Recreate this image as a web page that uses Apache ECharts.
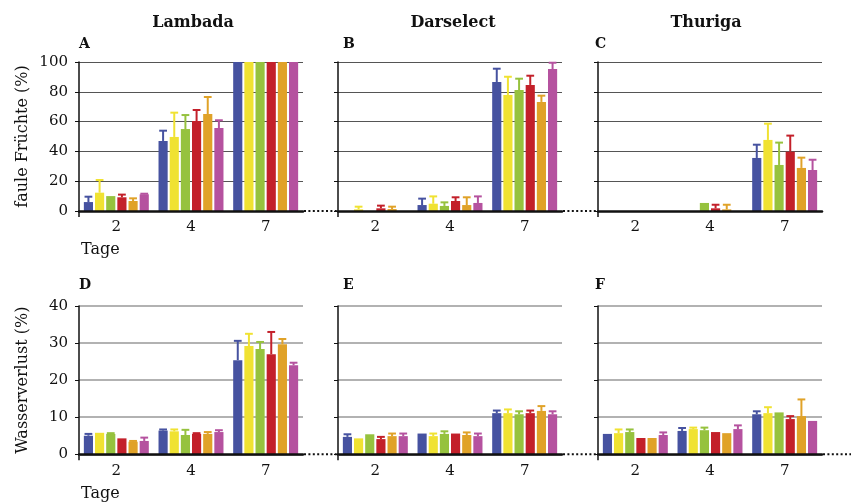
<!DOCTYPE html>
<html>
<head>
<meta charset="utf-8">
<script src="https://cdn.jsdelivr.net/npm/echarts@6/dist/echarts.min.js"></script>
<style>
html,body{margin:0;padding:0;background:#fff;}
#chart{width:851px;height:502px;}
</style>
</head>
<body>
<div id="chart"></div>
<script>
// ---------- data ----------
const categories = ['2', '4', '7'];
const seriesNames = ['Serie 1', 'Serie 2', 'Serie 3', 'Serie 4', 'Serie 5', 'Serie 6'];
const varieties = ['Lambada', 'Darselect', 'Thuriga'];
const panelLetters = ['A', 'B', 'C', 'D', 'E', 'F'];
const yNameTop = 'faule Früchte (%)';
const yNameBottom = 'Wasserverlust (%)';
const xName = 'Tage';

// rotten fruit (%) – rows: series, columns: day 2, 4, 7
const rotLambada = [
  [6.0, 47.0, 100], [12.3, 49.7, 100], [10.0, 55.0, 100],
  [9.2, 60.4, 100], [6.7, 65.1, 100], [11.2, 55.7, 100]
];
const rotLambadaErr = [
  [9.6, 53.9, null], [20.8, 66.0, null], [null, 64.4, null],
  [11.0, 67.8, null], [8.5, 76.5, null], [11.6, 60.9, null]
];
const rotDarselect = [
  [0, 4.0, 86.6], [1.1, 4.9, 77.9], [0, 3.4, 81.2],
  [1.8, 6.7, 84.6], [1.3, 4.0, 73.2], [0, 5.4, 95.3]
];
const rotDarselectErr = [
  [null, 8.3, 95.5], [2.9, 9.8, 90.1], [null, 5.8, 88.8],
  [3.6, 9.2, 90.8], [2.9, 9.2, 77.4], [null, 9.8, 99.5]
];
const rotThuriga = [
  [0, 0, 35.6], [0, 0, 47.7], [0, 5.4, 30.9],
  [0, 1.8, 39.8], [0, 1.1, 28.9], [0, 0, 27.5]
];
const rotThurigaErr = [
  [null, null, 44.5], [null, null, 58.6], [null, null, 45.9],
  [null, 4.2, 50.6], [null, 4.2, 35.8], [null, null, 34.4]
];
// water loss (%)
const waterLambada = [
  [5.0, 6.4, 25.4], [5.8, 6.2, 29.2], [5.5, 5.2, 28.4],
  [4.3, 5.5, 27.0], [3.4, 5.5, 29.7], [3.6, 6.0, 24.0]
];
const waterLambadaErr = [
  [5.5, 6.7, 30.6], [null, 6.7, 32.5], [5.7, 6.6, 30.3],
  [null, 5.7, 33.0], [3.6, 6.0, 31.1], [4.5, 6.5, 24.7]
];
const waterDarselect = [
  [4.7, 5.6, 11.1], [4.3, 4.9, 11.1], [5.4, 5.5, 10.8],
  [4.1, 5.6, 11.1], [4.9, 5.2, 11.7], [4.9, 4.9, 10.8]
];
const waterDarselectErr = [
  [5.4, null, 11.8], [null, 5.6, 12.1], [null, 6.2, 11.6],
  [4.7, null, 11.8], [5.6, 5.9, 13.0], [5.6, 5.6, 11.6]
];
const waterThuriga = [
  [5.5, 6.3, 10.8], [5.7, 6.8, 11.1], [6.0, 6.5, 11.3],
  [4.4, 6.0, 9.5], [4.4, 5.7, 10.3], [5.2, 6.8, 9.0]
];
const waterThurigaErr = [
  [null, 7.1, 11.6], [6.7, 7.2, 12.7], [6.7, 7.2, null],
  [null, null, 10.3], [null, null, 14.8], [5.9, 7.8, null]
];
const topTicks = { min: 0, max: 100, interval: 20 };
const bottomTicks = { min: 0, max: 40, interval: 10 };

// ---------- styling / layout ----------
const colors = ['#4652A0', '#F0E232', '#96C23E', '#C3202A', '#E0A228', '#B5529F'];
const FONT = '"DejaVu Serif", serif';
const gridLefts = [79, 338, 598];
const gridWidth = 224;
const rows = [{ top: 62, height: 149 }, { top: 306, height: 148.3 }];
const CAT_GAP = 0.13, BAR_GAP = 0.22;

const panels = [
  { vals: rotLambada, err: rotLambadaErr, row: 0, col: 0 },
  { vals: rotDarselect, err: rotDarselectErr, row: 0, col: 1 },
  { vals: rotThuriga, err: rotThurigaErr, row: 0, col: 2 },
  { vals: waterLambada, err: waterLambadaErr, row: 1, col: 0 },
  { vals: waterDarselect, err: waterDarselectErr, row: 1, col: 1 },
  { vals: waterThuriga, err: waterThurigaErr, row: 1, col: 2 }
];

function errRender(sIdx, n, color) {
  return function (params, api) {
    const cat = api.value(0), v = api.value(1), e = api.value(2);
    if (e == null || isNaN(e)) return;
    const band = api.size([1, 0])[0];
    const usable = band * (1 - CAT_GAP);
    const w = usable / (n + (n - 1) * BAR_GAP);
    const total = n * w + (n - 1) * w * BAR_GAP;
    const cx = api.coord([cat, 0])[0] - total / 2 + sIdx * w * (1 + BAR_GAP) + w / 2;
    const yv = api.coord([cat, v])[1];
    const ye = api.coord([cat, e])[1];
    const cap = w * 0.85;
    return {
      type: 'group',
      children: [
        { type: 'line', shape: { x1: cx, y1: yv, x2: cx, y2: ye }, style: { stroke: color, lineWidth: 2 } },
        { type: 'line', shape: { x1: cx - cap / 2, y1: ye, x2: cx + cap / 2, y2: ye }, style: { stroke: color, lineWidth: 2 } }
      ]
    };
  };
}

const grid = [], xAxis = [], yAxis = [], series = [], title = [], graphic = [];

panels.forEach((p, i) => {
  const r = rows[p.row];
  grid.push({ left: gridLefts[p.col], top: r.top, width: gridWidth, height: r.height });
  xAxis.push({
    type: 'category', gridIndex: i, data: categories, z: 5,
    axisLine: { lineStyle: { color: '#111', width: 2.5 } },
    axisTick: { alignWithLabel: true, length: 5, lineStyle: { color: '#111', width: 1.2 } },
    axisLabel: { color: '#111', fontFamily: FONT, fontSize: 15, margin: 9 },
    splitLine: { show: false }
  });
  const ticks = p.row === 0 ? topTicks : bottomTicks;
  yAxis.push({
    type: 'value', gridIndex: i, min: ticks.min, max: ticks.max, interval: ticks.interval,
    name: p.col === 0 ? (p.row === 0 ? yNameTop : yNameBottom) : '',
    nameLocation: 'middle', nameGap: 48,
    nameTextStyle: { fontFamily: FONT, fontSize: 16, color: '#111' },
    axisLine: { show: true, lineStyle: { color: '#111', width: 1.5 } },
    axisTick: { show: true, length: 4, lineStyle: { color: '#111' } },
    axisLabel: { show: p.col === 0, color: '#111', fontFamily: FONT, fontSize: 15, margin: 11 },
    splitLine: { show: true, lineStyle: { color: p.row === 0 ? '#555' : '#999', width: p.row === 0 ? 1 : 1.5 } }
  });
  const n = p.vals.length;
  p.vals.forEach((vals, s) => {
    series.push({
      type: 'bar', name: seriesNames[s], xAxisIndex: i, yAxisIndex: i,
      data: vals, barCategoryGap: (CAT_GAP * 100) + '%', barGap: (BAR_GAP * 100) + '%',
      itemStyle: { color: colors[s] }, silent: true
    });
  });
  p.err.forEach((errs, s) => {
    series.push({
      type: 'custom', name: seriesNames[s] + ' err', xAxisIndex: i, yAxisIndex: i, z: 3,
      data: categories.map((c, k) => [k, p.vals[s][k], errs[k] == null ? NaN : errs[k]]),
      encode: { x: 0, y: [1, 2] },
      renderItem: errRender(s, n, colors[s]), silent: true
    });
  });
  // panel letter
  title.push({
    text: panelLetters[i], left: p.col === 0 ? 74 : (p.col === 1 ? 338 : 590),
    top: p.row === 0 ? 32 : 273,
    textStyle: { fontFamily: FONT, fontSize: 14, fontWeight: 'bold', color: '#111' }
  });
  // y axis extension below baseline
  const base = r.top + r.height;
  graphic.push({
    type: 'line', silent: true,
    shape: { x1: gridLefts[p.col], y1: base, x2: gridLefts[p.col], y2: base + 6 },
    style: { stroke: '#111', lineWidth: 1.5 }
  });
});

// variety titles
const titleCenters = [188, 448, 701];
varieties.forEach((v, c) => {
  title.push({
    text: v, left: titleCenters[c], top: 10, textAlign: 'center',
    textStyle: { fontFamily: FONT, fontSize: 16, fontWeight: 'bold', color: '#111' }
  });
});
// "Tage"
[237, 481].forEach(t => {
  title.push({ text: xName, left: 76, top: t, textStyle: { fontFamily: FONT, fontSize: 16, fontWeight: 'normal', color: '#111' } });
});

// dotted connectors along the baseline
rows.forEach((r, ri) => {
  const y = r.top + r.height;
  const segs = [[gridLefts[0] + gridWidth, gridLefts[1]], [gridLefts[1] + gridWidth, gridLefts[2]]];
  if (ri === 1) segs.push([gridLefts[2] + gridWidth, 851]);
  segs.forEach(sg => {
    graphic.push({
      type: 'line', silent: true,
      shape: { x1: sg[0] + 1, y1: y, x2: sg[1], y2: y },
      style: { stroke: '#111', lineWidth: 2, lineDash: [2, 2.4] }
    });
  });
});

const chart = echarts.init(document.getElementById('chart'), null, { renderer: 'canvas' });
chart.setOption({
  animation: false,
  backgroundColor: '#fff',
  title, grid, xAxis, yAxis, series, graphic
});
</script>
</body>
</html>
